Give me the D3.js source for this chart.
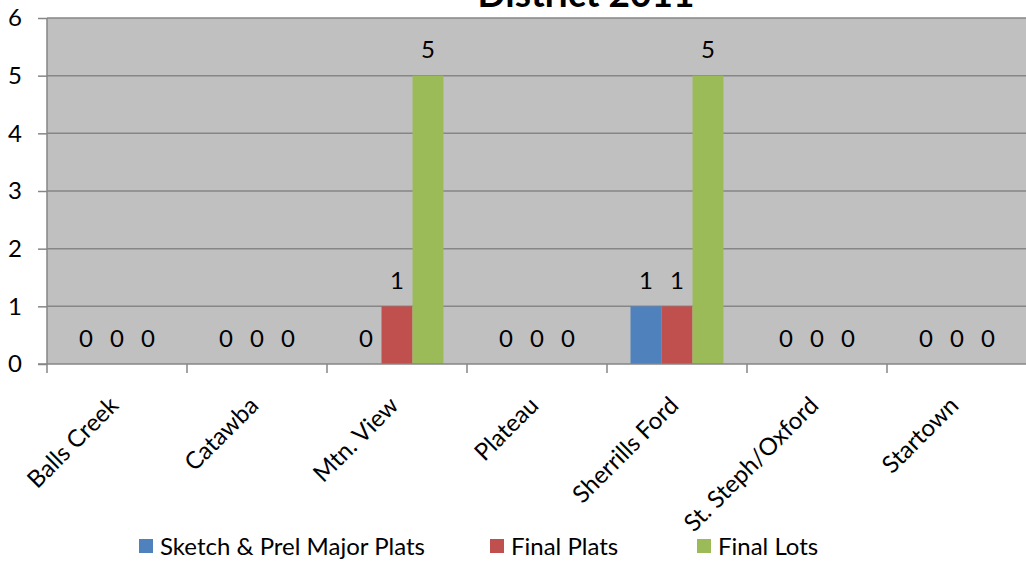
<!DOCTYPE html>
<html>
<head>
<meta charset="utf-8">
<script src="https://cdn.jsdelivr.net/npm/d3@7"></script>
<style>
  body { margin: 0; background: #fff; }
  svg text { font-family: Lato, "Open Sans", sans-serif; fill: #000; }
</style>
</head>
<body>
<svg id="chart" width="1026" height="561"></svg>
<script>
  // Chart values
  var categories = ["Balls Creek", "Catawba", "Mtn. View", "Plateau", "Sherrills Ford", "St. Steph/Oxford", "Startown"];
  var seriesNames = ["Sketch & Prel Major Plats", "Final Plats", "Final Lots"];
  var sketchPrel = [0, 0, 0, 0, 1, 0, 0];
  var finalPlats = [0, 0, 1, 0, 1, 0, 0];
  var finalLots = [0, 0, 5, 0, 5, 0, 0];
  var yTicks = [0, 1, 2, 3, 4, 5, 6];
  var colors = ["#4f81bd", "#c0504d", "#9bbb59"];

  var seriesValues = [sketchPrel, finalPlats, finalLots];
  var table = categories.map(function (c, i) {
    return { cat: c, vals: seriesValues.map(function (s, j) { return { key: j, value: s[i] }; }) };
  });

  // plot box (note: "top" is reserved on window, so use plot* names)
  var plotLeft = 47, plotRight = 1027, plotTop = 18, plotBottom = 364;
  var fontSize = "24px";
  var svg = d3.select("#chart");

  var x0 = d3.scaleBand().domain(categories).range([plotLeft, plotRight]);
  var x1 = d3.scaleBand().domain([0, 1, 2]).range([23.5, x0.bandwidth() - 23.5]);
  var y = d3.scaleLinear().domain([0, 6]).range([plotBottom, plotTop]);

  // plot background
  svg.append("rect")
    .attr("x", plotLeft).attr("y", plotTop)
    .attr("width", plotRight - plotLeft).attr("height", plotBottom - plotTop)
    .attr("fill", "#c0c0c0");

  // gridlines
  svg.append("g").selectAll("line")
    .data(yTicks.slice(1))
    .enter().append("line")
    .attr("x1", plotLeft).attr("x2", plotRight)
    .attr("y1", function (d) { return y(d); })
    .attr("y2", function (d) { return y(d); })
    .attr("stroke", "#868686").attr("stroke-width", 1.5);

  // bars
  var groups = svg.append("g").selectAll("g.cat")
    .data(table).enter().append("g")
    .attr("class", "cat")
    .attr("transform", function (d) { return "translate(" + x0(d.cat) + ",0)"; });

  groups.selectAll("rect")
    .data(function (d) { return d.vals; })
    .enter().append("rect")
    .attr("x", function (d) { return x1(d.key); })
    .attr("width", x1.bandwidth())
    .attr("y", function (d) { return y(d.value); })
    .attr("height", function (d) { return plotBottom - y(d.value); })
    .attr("fill", function (d) { return colors[d.key]; });

  // data labels
  groups.selectAll("text")
    .data(function (d) { return d.vals; })
    .enter().append("text")
    .attr("x", function (d) { return x1(d.key) + x1.bandwidth() / 2; })
    .attr("y", function (d) { return y(d.value) - 26; })
    .attr("dy", "0.36em")
    .attr("text-anchor", "middle")
    .style("font-size", fontSize)
    .text(function (d) { return d.value; });

  // y axis
  var yAxis = d3.axisLeft(y).tickValues(yTicks).tickSize(9).tickPadding(16).tickFormat(d3.format("d"));
  var gy = svg.append("g").attr("transform", "translate(" + plotLeft + ",0)").call(yAxis);
  gy.select(".domain").attr("stroke", "#868686").attr("stroke-width", 1.5).attr("d", "M0," + plotTop + "V" + plotBottom);
  gy.selectAll(".tick line").attr("stroke", "#868686").attr("stroke-width", 1.5);
  gy.selectAll(".tick text").style("font-size", fontSize).style("font-family", "Lato, 'Open Sans', sans-serif").attr("fill", "#000");

  // x axis
  var gx = svg.append("g").attr("transform", "translate(0," + plotBottom + ")");
  gx.append("line").attr("x1", plotLeft - 9).attr("x2", plotRight).attr("stroke", "#868686").attr("stroke-width", 1.5);
  gx.selectAll("line.tk")
    .data(categories).enter().append("line")
    .attr("class", "tk")
    .attr("x1", function (d) { return x0(d); })
    .attr("x2", function (d) { return x0(d); })
    .attr("y1", 0).attr("y2", 9)
    .attr("stroke", "#868686").attr("stroke-width", 1.5);
  gx.selectAll("text")
    .data(categories).enter().append("text")
    .attr("text-anchor", "end")
    .attr("transform", function (d) {
      return "translate(" + (x0(d) + x0.bandwidth() / 2 - 3) + ",37) rotate(-45)";
    })
    .attr("dy", "0.35em")
    .style("font-size", fontSize)
    .text(function (d) { return d; });

  // title (upper part cut off as in reference)
  svg.append("text")
    .attr("x", 586).attr("y", 7)
    .attr("text-anchor", "middle")
    .style("font-size", "37px").style("font-weight", "bold")
    .text("District 2011");

  // legend
  var legendX = [139, 490, 697];
  var legend = svg.append("g").selectAll("g")
    .data(seriesNames).enter().append("g")
    .attr("transform", function (d, i) { return "translate(" + legendX[i] + ",546)"; });
  legend.append("rect").attr("width", 14).attr("height", 14).attr("y", -7)
    .attr("fill", function (d, i) { return colors[i]; });
  legend.append("text").attr("x", 21).attr("y", 0).attr("dy", "0.36em")
    .style("font-size", fontSize)
    .text(function (d) { return d; });
</script>
</body>
</html>
